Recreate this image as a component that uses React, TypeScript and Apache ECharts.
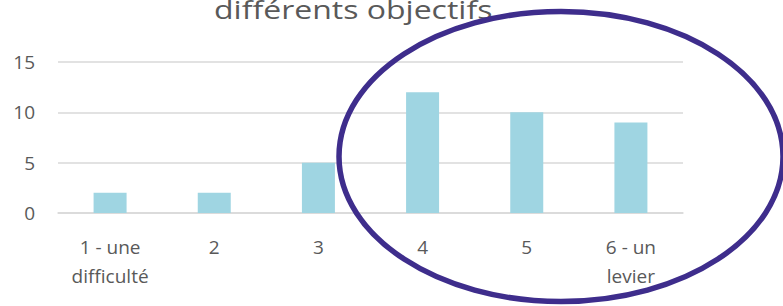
import React, { useEffect, useRef } from "react";
import * as echarts from "echarts";

const categories = ["1 - une\ndifficulté", "2", "3", "4", "5", "6 - un\nlevier"];
const values = [2, 2, 5, 12, 10, 9];
const titleText = "différents objectifs";
const yTicks = { min: 0, max: 15, interval: 5 };

const FONT = "'Open Sans', 'Noto Sans', sans-serif";
const TEXT = "#595959";
const GRID = "#d9d9d9";

export default function App() {
  const ref = useRef<HTMLDivElement>(null);
  useEffect(() => {
    if (!ref.current) return;
    const chart = echarts.init(ref.current, undefined, { renderer: "svg" });
    chart.setOption({
      animation: false,
      backgroundColor: "#ffffff",
      grid: { left: 58, right: 100, top: 62, bottom: 93, containLabel: false },
      xAxis: {
        type: "category",
        data: categories,
        axisLine: { show: true, lineStyle: { color: GRID, width: 1.5 } },
        axisTick: { show: false },
        axisLabel: {
          color: TEXT,
          fontSize: 19,
          fontFamily: FONT,
          lineHeight: 29,
          margin: 19,
          interval: 0,
        },
      },
      yAxis: {
        type: "value",
        min: yTicks.min,
        max: yTicks.max,
        interval: yTicks.interval,
        axisLine: { show: false },
        axisTick: { show: false },
        splitLine: { lineStyle: { color: GRID, width: 1.5 } },
        axisLabel: { color: TEXT, fontSize: 19, fontFamily: FONT, margin: 23 },
      },
      series: [
        {
          type: "bar",
          data: values,
          barWidth: 33,
          itemStyle: { color: "#9fd5e2" },
        },
      ],
      graphic: [
        {
          type: "text",
          x: 214,
          y: 9,
          scaleX: 1.28,
          z: 10,
          style: {
            text: titleText,
            fill: TEXT,
            font: `25px ${FONT}`,
            verticalAlign: "middle",
            align: "left",
          },
        },
        {
          type: "ellipse",
          z: 100,
          shape: { cx: 561, cy: 156.5, rx: 222, ry: 145 },
          style: { fill: "none", stroke: "#3e2d8c", lineWidth: 5.5 },
        },
      ],
    });
    return () => chart.dispose();
  }, []);
  return (
    <div
      ref={ref}
      style={{ position: "fixed", left: 0, top: 0, width: 783, height: 306 }}
    />
  );
}
